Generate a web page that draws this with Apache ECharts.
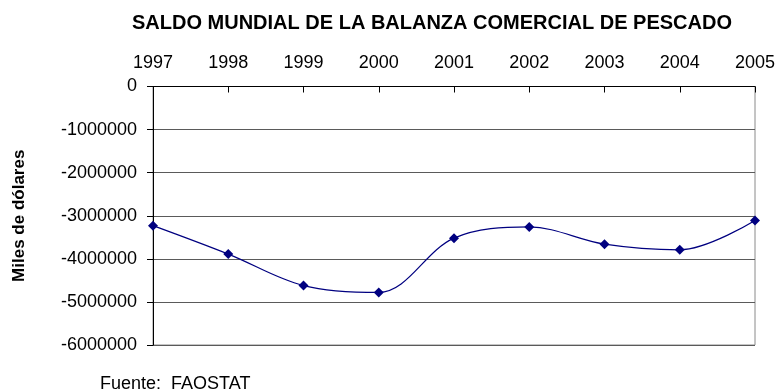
<!DOCTYPE html>
<html>
<head>
<meta charset="utf-8">
<script src="https://cdn.jsdelivr.net/npm/echarts@6/dist/echarts.min.js"></script>
<style>
  html, body { margin: 0; padding: 0; background: #ffffff; }
  #chart { width: 779px; height: 392px; }
</style>
</head>
<body>
<div id="chart"></div>
<script>
// Saldo mundial de la balanza comercial de pescado (miles de dólares)
var years = ['1997', '1998', '1999', '2000', '2001', '2002', '2003', '2004', '2005'];
var saldo = [-3230000, -3890000, -4620000, -4780000, -3520000, -3260000, -3660000, -3790000, -3110000];
var yTicks = { min: -6000000, max: 0, step: 1000000 };

var FONT = '"Liberation Sans", Arial, sans-serif';

var chart = echarts.init(document.getElementById('chart'), null, { renderer: 'canvas' });

chart.setOption({
  animation: false,
  backgroundColor: '#ffffff',
  title: {
    text: 'SALDO MUNDIAL DE LA BALANZA COMERCIAL DE PESCADO',
    left: 127,
    top: 8,
    textStyle: { fontFamily: FONT, fontSize: 20, fontWeight: 'bold', color: '#000000' }
  },
  grid: {
    left: 153, right: 24, top: 86.5, bottom: 47,
    show: true, borderColor: '#8a8a8a', borderWidth: 1
  },
  xAxis: {
    type: 'category',
    position: 'top',
    data: years,
    boundaryGap: false,
    axisLine: { show: true, onZero: false, lineStyle: { color: '#000000', width: 1 } },
    axisTick: { show: true, inside: true, length: 6, alignWithLabel: true, lineStyle: { color: '#000000' } },
    axisLabel: { margin: 14, fontFamily: FONT, fontSize: 18, color: '#000000' },
    splitLine: { show: false }
  },
  yAxis: {
    type: 'value',
    min: yTicks.min,
    max: yTicks.max,
    interval: yTicks.step,
    name: 'Miles de dólares',
    nameLocation: 'middle',
    nameRotate: 90,
    nameGap: 125,
    nameTextStyle: { fontFamily: FONT, fontSize: 17, fontWeight: 'bold', color: '#000000' },
    axisLine: { show: true, lineStyle: { color: '#000000', width: 1 } },
    axisTick: { show: true, inside: false, length: 6, lineStyle: { color: '#000000' } },
    axisLabel: {
      margin: 16, fontFamily: FONT, fontSize: 18, color: '#000000',
      formatter: function (v) { return String(v); }
    },
    splitLine: { show: true, lineStyle: { color: '#5a5a5a', width: 1 } }
  },
  series: [{
    type: 'line',
    data: saldo,
    smooth: 0.35,
    symbol: 'diamond',
    symbolSize: 10,
    itemStyle: { color: '#000080' },
    lineStyle: { color: '#000080', width: 1.2 }
  }],
  graphic: [{
    type: 'text',
    left: 100,
    top: 375,
    style: { text: 'Fuente:  FAOSTAT', font: '18px "Liberation Sans", Arial, sans-serif', fill: '#000000' }
  }]
});
</script>
</body>
</html>
